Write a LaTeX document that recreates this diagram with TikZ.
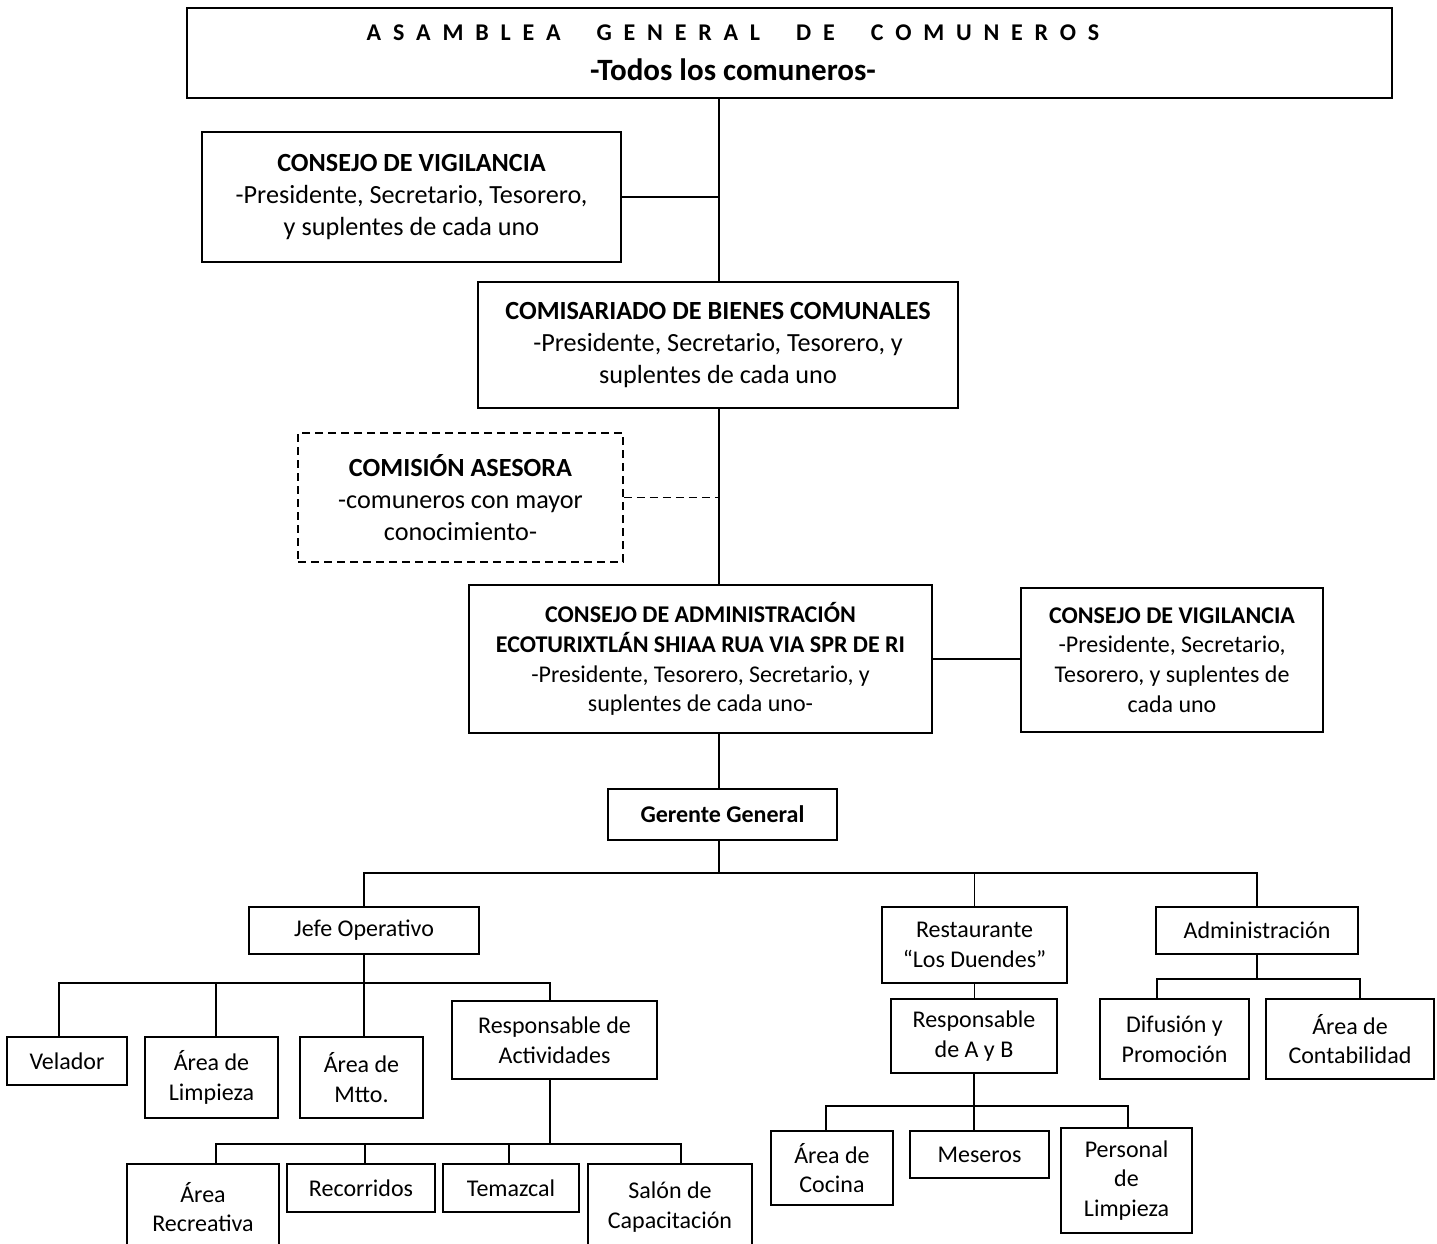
\documentclass[tikz,border=0pt]{standalone}
\usepackage{fontspec}
\setmainfont{Carlito}
\newcommand{\LS}{\kern11.8pt}
\newcommand{\WS}{\hspace{36pt}}
\begin{document}
\begin{tikzpicture}[x=1pt,y=-1pt,
  bx/.style={draw, line width=1.6pt, align=center, inner sep=0pt,
    font=\fontsize{24}{29.8}\selectfont},
  bxl/.style={bx, font=\fontsize{26.2}{32}\selectfont},
  dbx/.style={bxl, dash pattern=on 8pt off 5pt},
  ln/.style={line width=1.6pt},
  dln/.style={line width=1.6pt, dash pattern=on 8pt off 5pt},
  txt/.style={inner sep=0pt, font=\fontsize{24}{29.8}\selectfont\bfseries}]
\useasboundingbox (0,0) rectangle (1437,1243);
\fill[white] (0,0) rectangle (1437,1243);
\clip (0,0) rectangle (1437,1243);

% top
\node[bx, minimum width=1205, minimum height=90] (top) at (789.5,53) {};
\node[txt] (ttl) at (733,33) {A\LS S\LS A\LS M\LS B\LS L\LS E\LS A\WS G\LS E\LS N\LS E\LS R\LS A\LS L\WS D\LS E\WS C\LS O\LS M\LS U\LS N\LS E\LS R\LS O\LS S};
\node[txt, font=\fontsize{31}{36}\selectfont\bfseries] (sub) at (733,70) {-Todos los comuneros-};
\coordinate (spine) at (719,0);

\node[bxl, minimum width=419, minimum height=130] (vigL) at (411.5,197)
  {{\bfseries CONSEJO DE VIGILANCIA}\\-Presidente, Secretario, Tesorero,\\y suplentes de cada uno};
\node[bxl, minimum width=480, minimum height=126] (comi) at (718,345)
  {{\bfseries COMISARIADO DE BIENES COMUNALES}\\-Presidente, Secretario, Tesorero, y\\suplentes de cada uno};
\node[dbx, minimum width=325, minimum height=129] (cas) at (460.5,497.5)
  {{\bfseries COMISIÓN ASESORA}\\-comuneros con mayor\\conocimiento-};
\node[bx, minimum width=463, minimum height=148] (adm) at (700.5,659)
  {{\bfseries CONSEJO DE ADMINISTRACIÓN}\\{\bfseries ECOTURIXTLÁN SHIAA RUA VIA SPR DE RI}\\-Presidente, Tesorero, Secretario, y\\suplentes de cada uno-};
\node[bx, minimum width=302, minimum height=144] (vigR) at (1172,660)
  {{\bfseries CONSEJO DE VIGILANCIA}\\-Presidente, Secretario,\\Tesorero, y suplentes de\\cada uno};
\node[bx, minimum width=229, minimum height=51] (gg) at (722.5,814.5) {\bfseries Gerente General};

\node[bx, minimum width=230, minimum height=47] (jefe) at (364,930.5) {Jefe Operativo};
\node[bx, minimum width=185, minimum height=76] (rest) at (974.5,945) {Restaurante\\“Los Duendes”};
\node[bx, minimum width=202, minimum height=47] (adms) at (1257,930.5) {Administración};

\node[bx, minimum width=120, minimum height=48] (vel) at (67,1061) {Velador};
\node[bx, minimum width=133, minimum height=81] (limp) at (211.5,1077.5) {Área de\\Limpieza};
\node[bx, minimum width=123, minimum height=81] (mtto) at (361.5,1077.5) {Área de\\Mtto.};
\node[bx, minimum width=205, minimum height=78] (ract) at (554.5,1040) {Responsable de\\Actividades};

\node[bx, minimum width=152, minimum height=86] (recre) at (203,1207) {Área\\Recreativa};
\node[bx, minimum width=148, minimum height=48] (reco) at (361,1188) {Recorridos};
\node[bx, minimum width=136, minimum height=48] (tema) at (511,1188) {Temazcal};
\node[bx, minimum width=164, minimum height=86] (salon) at (670,1207) {Salón de\\Capacitación};

\node[bx, minimum width=166, minimum height=74] (rab) at (974,1036) {Responsable\\de A y B};
\node[bx, minimum width=122, minimum height=74] (coc) at (832,1168) {Área de\\Cocina};
\node[bx, minimum width=139, minimum height=47] (mes) at (979.5,1154.5) {Meseros};
\node[bx, minimum width=131, minimum height=105] (pers) at (1126.5,1180.5) {Personal\\de\\Limpieza};

\node[bx, minimum width=149, minimum height=80] (dif) at (1174.5,1039) {Difusión y\\Promoción};
\node[bx, minimum width=168, minimum height=80] (cont) at (1350,1039) {Área de\\Contabilidad};

% bus levels
\coordinate (b1) at (0,873);
\coordinate (b2) at (0,983);
\coordinate (b3) at (0,1144);
\coordinate (b4) at (0,1106);
\coordinate (b5) at (0,979);

% spine
\draw[ln] (top.south -| spine) -- (comi.north -| spine);
\draw[ln] (comi.south -| spine) -- (adm.north -| spine);
\draw[ln] (adm.south -| spine) -- (gg.north -| spine);
\draw[ln] (vigL.east) -- (vigL.east -| spine);
\draw[dln] (cas.east) -- (cas.east -| spine);
\draw[ln] (adm.east) -- (vigR.west |- adm.east);

% gerente bus
\draw[ln] (gg.south -| spine) -- (spine |- b1);
\draw[ln] (jefe.north) -- (jefe.north |- b1) -- (adms.north |- b1) -- (adms.north);
\draw[ln] (rest.north) -- (rest.north |- b1);

% jefe bus
\coordinate (dvel) at ([xshift=-8pt]vel.north);
\coordinate (dlimp) at ([xshift=4.5pt]limp.north);
\coordinate (dract) at ([xshift=-4.5pt]ract.north);
\draw[ln] (jefe.south) -- (jefe.south |- mtto.north);
\draw[ln] (dvel) -- (dvel |- b2) -- (dract |- b2) -- (dract);
\draw[ln] (dlimp) -- (dlimp |- b2);

% actividades bus
\coordinate (drecre) at ([xshift=13pt]recre.north);
\coordinate (dreco) at ([xshift=4pt]reco.north);
\coordinate (dtema) at ([xshift=-2pt]tema.north);
\coordinate (dsalon) at ([xshift=11pt]salon.north);
\draw[ln] (dract |- ract.south) -- (dract |- b3);
\draw[ln] (drecre) -- (drecre |- b3) -- (dsalon |- b3) -- (dsalon);
\draw[ln] (dreco) -- (dreco |- b3);
\draw[ln] (dtema) -- (dtema |- b3);

% restaurante
\draw[ln] (rest.south) -- (rab.north -| rest.south);
\coordinate (dcoc) at ([xshift=-6pt]coc.north);
\coordinate (dpers) at ([xshift=1.5pt]pers.north);
\draw[ln] (rab.south) -- (rab.south |- b4);
\draw[ln] (dcoc) -- (dcoc |- b4) -- (dpers |- b4) -- (dpers);
\draw[ln] (mes.north -| rab.south) -- (rab.south |- b4);

% administracion
\coordinate (ddif) at ([xshift=-17.5pt]dif.north);
\coordinate (dcont) at ([xshift=10pt]cont.north);
\draw[ln] (adms.south) -- (adms.south |- b5);
\draw[ln] (ddif) -- (ddif |- b5) -- (dcont |- b5) -- (dcont);
\end{tikzpicture}
\end{document}
